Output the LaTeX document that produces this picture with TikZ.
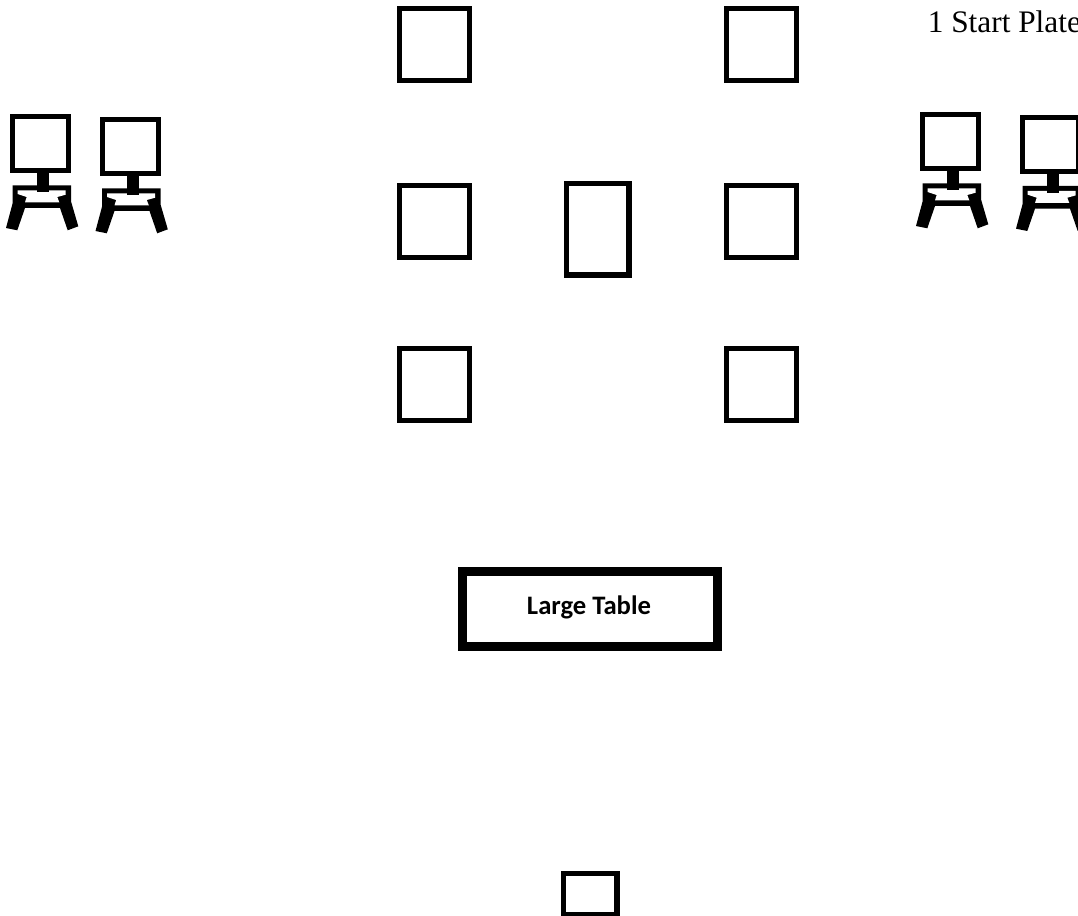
\documentclass[tikz,border=0pt]{standalone}
\usepackage{fontspec}
\setmainfont{Liberation Serif}
\newfontfamily\tablefont{Carlito}
\usetikzlibrary{positioning}
\tikzset{
  kocka/.style={draw,line width=4pt,inner sep=0pt,minimum width=52.5pt,minimum height=54pt},
  allo/.style={draw,line width=4pt,inner sep=0pt,minimum width=47pt,minimum height=68.5pt},
  asztal/.style={draw,line width=6.5pt,inner sep=0pt,minimum width=191.2pt,minimum height=56.2pt},
  kis/.style={draw,line width=4pt,inner sep=0pt,minimum width=40pt,minimum height=30.75pt},
  felirat/.style={inner sep=0pt,anchor=base west,font=\fontsize{23.5}{28}\selectfont},
  tabla/.style={inner sep=0pt,anchor=base,font=\tablefont\bfseries\fontsize{20}{24}\selectfont},
  szek/.pic={
    \draw[line width=3.75pt] (2.5,2.5) rectangle (58.5,57);
    \fill (2.7,71.3) -- (61,71.3) -- (61,87.3) -- (68.3,112.3) -- (57.7,116.3) -- (50,94)
      -- (15,94) -- (7.3,116.3) -- (-4,114) -- (2.7,89) -- cycle;
    \fill[white] (7.7,76.3) -- (55.7,76.3) -- (55.7,80.7) -- (47.3,83)
      -- (49.3,88.3) -- (15,88.3) -- (16.7,83) -- (7.7,80) -- cycle;
    \fill (27,54) rectangle (39,78);
  },
}
\begin{document}
\begin{tikzpicture}[x=0.75pt,y=-0.75pt]
  \clip (0,0) rectangle (1078,916);
  \fill[white] (0,0) rectangle (1078,916);
  \node[kocka] (fent1) at (434.8,44.2) {};
  \node[kocka] (fent2) at (761.8,44.2) {};
  \node[kocka] (kozep1) at (434.8,221.8) {};
  \node[kocka] (kozep2) at (761.8,221.8) {};
  \node[kocka] (lent1) at (434.8,384.3) {};
  \node[kocka] (lent2) at (761.8,384.3) {};
  \node[allo] (allo1) at (597.8,229.5) {};
  \node[asztal] (nagy) at (589.8,608.8) {};
  \node[tabla] (nagyfelirat) at (589,614.5) {Large Table};
  \node[kis] (kis1) at (590.2,894) {};
  \node[felirat] (start) at (927.5,33) {1 Start Plate};
  % szekek
  \pic at (10,114) {szek};
  \pic at (99.5,117) {szek};
  \pic at (920,112) {szek};
  \pic at (1020,114.7) {szek};
\end{tikzpicture}
\end{document}
